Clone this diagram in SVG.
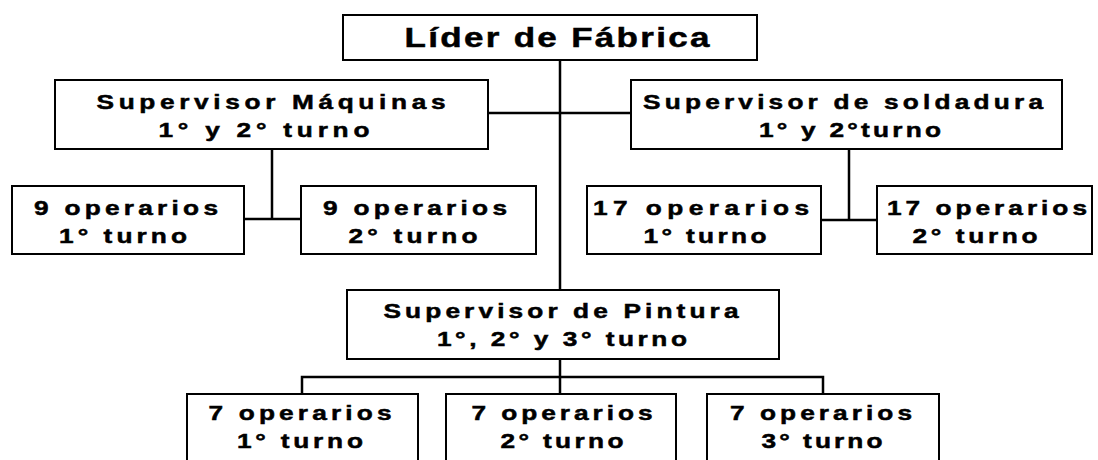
<svg xmlns="http://www.w3.org/2000/svg" width="1098" height="460" viewBox="0 0 1098 460">
<style>
.box{fill:#fff;stroke:#000;stroke-width:2}
.ln{stroke:#000;stroke-width:2.5;fill:none}
text{font-family:"Liberation Sans",Arial,Helvetica,sans-serif;font-weight:bold;font-size:21px;fill:#000;stroke:#000;stroke-width:0.5;text-anchor:middle}
.t{font-size:28px}
.w{transform:scale(1.25,1)}
</style>
<rect width="1098" height="460" fill="#fff"/>
<g id="connectors">
<path class="ln" d="M560 60V394"/>
<path class="ln" d="M488 113H631"/>
<path class="ln" d="M272 149V219M244 219H301"/>
<path class="ln" d="M849 149V220M821 220H877"/>
<path class="ln" d="M302 394V377H823V394"/>
</g>
<g id="lider">
<rect class="box" x="343" y="15" width="414" height="45"/>
<g class="w"><text class="t" x="445.6" y="47" textLength="244" lengthAdjust="spacing">Líder de Fábrica</text></g>
</g>
<g id="sup-maquinas">
<rect class="box" x="55" y="80" width="433" height="69"/>
<g class="w">
<text x="216.8" y="109" textLength="279.2" lengthAdjust="spacing">Supervisor Máquinas</text>
<text x="211.2" y="137" textLength="168.8" lengthAdjust="spacing">1° y 2° turno</text>
</g>
</g>
<g id="sup-soldadura">
<rect class="box" x="631" y="80" width="431" height="69"/>
<g class="w">
<text x="674.4" y="109" textLength="320" lengthAdjust="spacing">Supervisor de soldadura</text>
<text x="680" y="137" textLength="145.6" lengthAdjust="spacing">1° y 2°turno</text>
</g>
</g>
<g id="op9-1">
<rect class="box" x="12" y="186" width="232" height="68"/>
<g class="w">
<text x="100.8" y="215" textLength="147.2" lengthAdjust="spacing">9 operarios</text>
<text x="98.4" y="243" textLength="102.4" lengthAdjust="spacing">1° turno</text>
</g>
</g>
<g id="op9-2">
<rect class="box" x="301" y="186" width="235" height="68"/>
<g class="w">
<text x="332" y="215" textLength="147.2" lengthAdjust="spacing">9 operarios</text>
<text x="330.4" y="243" textLength="103.2" lengthAdjust="spacing">2° turno</text>
</g>
</g>
<g id="op17-1">
<rect class="box" x="587" y="186" width="234" height="68"/>
<g class="w">
<text x="560.8" y="215" textLength="172.8" lengthAdjust="spacing">17 operarios</text>
<text x="564" y="243" textLength="98.4" lengthAdjust="spacing">1° turno</text>
</g>
</g>
<g id="op17-2">
<rect class="box" x="877" y="186" width="215" height="68"/>
<g class="w">
<text x="789.6" y="215" textLength="160" lengthAdjust="spacing">17 operarios</text>
<text x="780" y="243" textLength="100" lengthAdjust="spacing">2° turno</text>
</g>
</g>
<g id="sup-pintura">
<rect class="box" x="347" y="290" width="432" height="69"/>
<g class="w">
<text x="448.8" y="318" textLength="284" lengthAdjust="spacing">Supervisor de Pintura</text>
<text x="449.6" y="346" textLength="200" lengthAdjust="spacing">1°, 2° y 3° turno</text>
</g>
</g>
<g id="op7-1">
<rect class="box" x="187" y="394" width="231" height="72"/>
<g class="w">
<text x="240" y="420" textLength="146.4" lengthAdjust="spacing">7 operarios</text>
<text x="240" y="448" textLength="100.8" lengthAdjust="spacing">1° turno</text>
</g>
</g>
<g id="op7-2">
<rect class="box" x="446" y="394" width="230" height="72"/>
<g class="w">
<text x="449.6" y="420" textLength="144.8" lengthAdjust="spacing">7 operarios</text>
<text x="449.6" y="448" textLength="98.4" lengthAdjust="spacing">2° turno</text>
</g>
</g>
<g id="op7-3">
<rect class="box" x="707" y="394" width="232" height="72"/>
<g class="w">
<text x="656.8" y="420" textLength="145.6" lengthAdjust="spacing">7 operarios</text>
<text x="657.6" y="448" textLength="96.8" lengthAdjust="spacing">3° turno</text>
</g>
</g>
</svg>
